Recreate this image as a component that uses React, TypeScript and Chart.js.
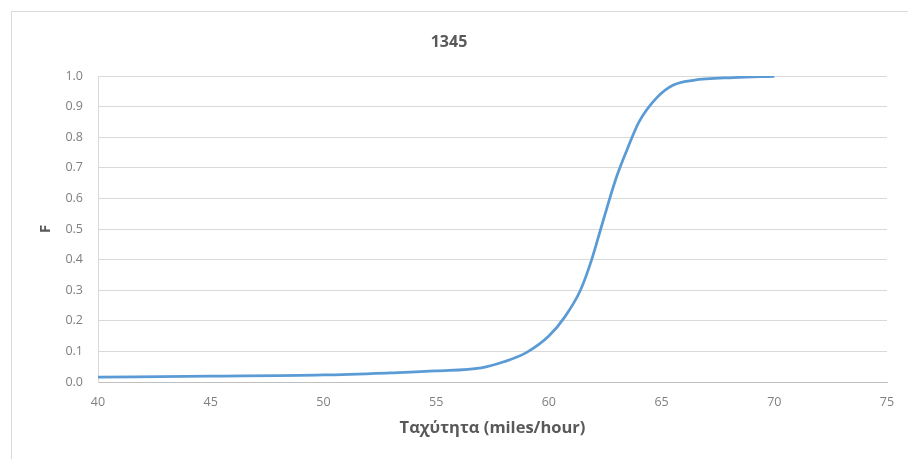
import React, { useEffect, useRef } from "react";
import { Chart, registerables } from "chart.js";

Chart.register(...registerables);

// Cumulative distribution of speed at station 1345
const speedMph = [40, 45, 50, 53, 55, 57, 58, 59, 60, 60.7, 61.4, 61.9, 62.3, 62.6, 63, 63.5, 64, 64.8, 65.5, 66.4, 68.2, 70];
const cumulativeF = [0.016, 0.019, 0.023, 0.03, 0.036, 0.046, 0.066, 0.096, 0.15, 0.212, 0.3, 0.4, 0.5, 0.575, 0.67, 0.765, 0.85, 0.93, 0.97, 0.986, 0.995, 0.999];

const chartTitle = "1345";
const xTitle = "Ταχύτητα (miles/hour)";
const yTitle = "F";

const FONT = "'Open Sans', 'DejaVu Sans', sans-serif";

export default function App() {
  const canvasRef = useRef<HTMLCanvasElement | null>(null);

  useEffect(() => {
    const canvas = canvasRef.current;
    if (!canvas) return;
    const points = speedMph.map((x, i) => ({ x, y: cumulativeF[i] }));
    const chart = new Chart(canvas, {
      type: "scatter",
      data: {
        datasets: [
          {
            data: points,
            showLine: true,
            borderColor: "#5b9bd5",
            borderWidth: 2.75,
            pointRadius: 0,
            cubicInterpolationMode: "monotone",
            fill: false,
          },
        ],
      },
      options: {
        animation: false,
        responsive: false,
        maintainAspectRatio: false,
        layout: { padding: { left: 0, right: 26, top: 0, bottom: 0 } },
        plugins: {
          legend: { display: false },
          tooltip: { enabled: false },
          title: {
            display: true,
            text: chartTitle,
            color: "#595959",
            font: { family: FONT, size: 16, weight: "bold" },
            padding: { top: 21.4, bottom: 24.4 },
          },
        },
        scales: {
          x: {
            type: "linear",
            min: 40,
            max: 75,
            afterFit: (scale: any) => {
              scale.height = 77;
            },
            ticks: {
              stepSize: 5,
              color: "#7f7f7f",
              font: { family: FONT, size: 12.5 },
              padding: 13,
              maxRotation: 0,
            },
            grid: { display: false, drawTicks: false },
            border: { color: "#bfbfbf", width: 1 },
            title: {
              display: true,
              text: xTitle,
              color: "#595959",
              font: { family: FONT, size: 16.5, weight: "bold" },
              padding: { top: 0, bottom: 21 },
            },
          },
          y: {
            type: "linear",
            min: 0,
            max: 1,
            afterFit: (scale: any) => {
              scale.width = 87;
            },
            ticks: {
              stepSize: 0.1,
              color: "#7f7f7f",
              font: { family: FONT, size: 12.5 },
              padding: 15,
              callback: (v: any) => Number(v).toFixed(1),
            },
            grid: { color: "#d9d9d9", lineWidth: 1, drawTicks: false },
            border: { color: "#d9d9d9", width: 1 },
            title: {
              display: true,
              text: yTitle,
              color: "#595959",
              font: { family: FONT, size: 15, weight: "bold" },
              padding: { top: 26, bottom: 0 },
            },
          },
        },
      },
    });
    return () => chart.destroy();
  }, []);

  return (
    <div
      style={{
        position: "fixed",
        left: 0,
        top: 0,
        width: 908,
        height: 459,
        overflow: "hidden",
        background: "#ffffff",
      }}
    >
      <div
        style={{
          position: "absolute",
          left: 11,
          top: 11,
          width: 920,
          height: 480,
          border: "1px solid #d9d9d9",
          boxSizing: "border-box",
        }}
      />
      <canvas
        ref={canvasRef}
        width={902}
        height={448}
        style={{ position: "absolute", left: 11, top: 11, width: 902, height: 448 }}
      />
    </div>
  );
}
